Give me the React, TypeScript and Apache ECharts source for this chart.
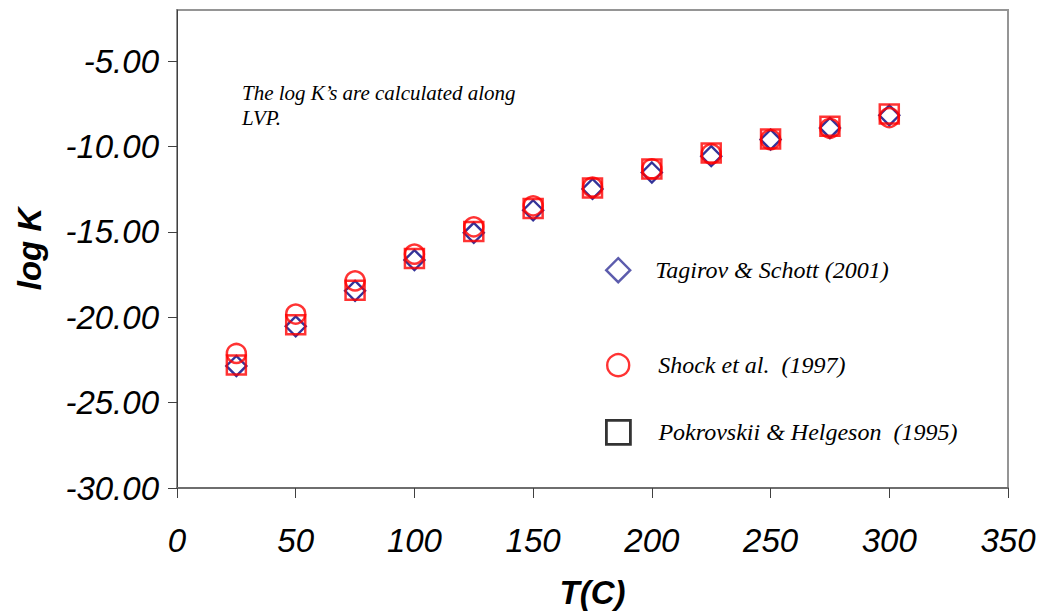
import React, { useEffect, useRef } from "react";
import * as echarts from "echarts";

const temps = [25, 50, 75, 100, 125, 150, 175, 200, 225, 250, 275, 300];
const tagirov = [-22.85, -20.53, -18.45, -16.65, -15.05, -13.73, -12.48, -11.52, -10.56, -9.59, -8.91, -8.17];
const shock = [-22.12, -19.81, -17.87, -16.3, -14.7, -13.47, -12.37, -11.3, -10.43, -9.59, -8.93, -8.3];
const pokrovskii = [-22.79, -20.44, -18.41, -16.55, -14.97, -13.63, -12.43, -11.32, -10.37, -9.55, -8.81, -8.09];
const yTicks = [-30, -25, -20, -15, -10, -5];
const seriesNames = ["Tagirov & Schott (2001)", "Shock et al.  (1997)", "Pokrovskii & Helgeson  (1995)"];
const noteLines = ["The log K\u2019s are calculated along", "LVP."];

const pairs = (ys: number[]) => temps.map((t, i) => [t, ys[i]]);

export default function App() {
  const ref = useRef<HTMLDivElement>(null);
  useEffect(() => {
    document.body.style.margin = "0";
    const chart = echarts.init(ref.current!, null, { renderer: "svg" });
    const legendText = { fontFamily: "Liberation Serif", fontStyle: "italic", fontSize: 24, color: "#000" };
    const axisFont = { fontFamily: "Liberation Sans", fontStyle: "italic", fontSize: 33, color: "#000" };
    chart.setOption({
      animation: false,
      backgroundColor: "#fff",
      grid: { left: 177, right: 37, top: 10, bottom: 123, show: true, borderColor: "#959595", borderWidth: 2 },
      xAxis: {
        type: "value",
        min: 0,
        max: 350,
        interval: 50,
        name: "T(C)",
        nameLocation: "middle",
        nameGap: 88,
        nameTextStyle: { ...axisFont, fontWeight: "bold" },
        axisLine: { lineStyle: { color: "#6e6e6e", width: 2 } },
        axisTick: { show: true, length: 10, lineStyle: { color: "#404040", width: 1 } },
        axisLabel: { margin: 36, ...axisFont },
        splitLine: { show: false },
      },
      yAxis: {
        type: "value",
        min: -30,
        max: -2,
        interval: 5,
        name: "log K",
        nameLocation: "middle",
        nameGap: 131,
        nameRotate: 90,
        nameTextStyle: { ...axisFont, fontWeight: "bold" },
        axisLine: { show: true, lineStyle: { color: "#404040", width: 1 } },
        axisTick: { show: true, length: 9, customValues: yTicks, lineStyle: { color: "#404040", width: 1 } },
        axisLabel: {
          margin: 18,
          customValues: yTicks,
          formatter: (v: number) => v.toFixed(2),
          ...axisFont,
        },
        splitLine: { show: false },
      },
      legend: [
        {
          left: 605, top: 257, padding: 0, itemWidth: 24, itemHeight: 24,
          textStyle: { ...legendText, padding: [0, 0, 0, 20] },
          data: [{ name: seriesNames[0], icon: "diamond", itemStyle: { color: "transparent", borderColor: "#333399", borderWidth: 2.4 } }],
        },
        {
          left: 606, top: 353, padding: 0, itemWidth: 22, itemHeight: 23,
          textStyle: { ...legendText, padding: [0, 0, 0, 24] },
          data: [{ name: seriesNames[1], icon: "circle", itemStyle: { color: "transparent", borderColor: "#ff0000", borderWidth: 2.4 } }],
        },
        {
          left: 605, top: 419, padding: 0, itemWidth: 24, itemHeight: 24,
          textStyle: { ...legendText, padding: [0, 0, 0, 23] },
          data: [{ name: seriesNames[2], icon: "rect", itemStyle: { color: "transparent", borderColor: "#000", borderWidth: 2.8 } }],
        },
      ],
      graphic: [
        {
          type: "text",
          left: 242,
          top: 80,
          style: {
            text: noteLines.join("\n"),
            fontFamily: "Liberation Serif",
            fontStyle: "italic",
            fontSize: 21,
            lineHeight: 25,
            fill: "#000",
          },
        },
      ],
      series: [
        {
          name: seriesNames[0],
          type: "scatter",
          symbol: "diamond",
          symbolSize: 20,
          data: pairs(tagirov),
          itemStyle: { color: "transparent", borderColor: "#000080", borderWidth: 2.4 },
        },
        {
          name: seriesNames[1],
          type: "scatter",
          symbol: "circle",
          symbolSize: 19,
          data: pairs(shock),
          itemStyle: { color: "transparent", borderColor: "#ff0000", borderWidth: 2.5 },
        },
        {
          name: seriesNames[2],
          type: "scatter",
          symbol: "rect",
          symbolSize: 19,
          data: pairs(pokrovskii),
          itemStyle: { color: "transparent", borderColor: "#ff0000", borderWidth: 2.5 },
        },
      ],
    });
    return () => chart.dispose();
  }, []);
  return <div ref={ref} style={{ width: 1045, height: 614 }} />;
}
